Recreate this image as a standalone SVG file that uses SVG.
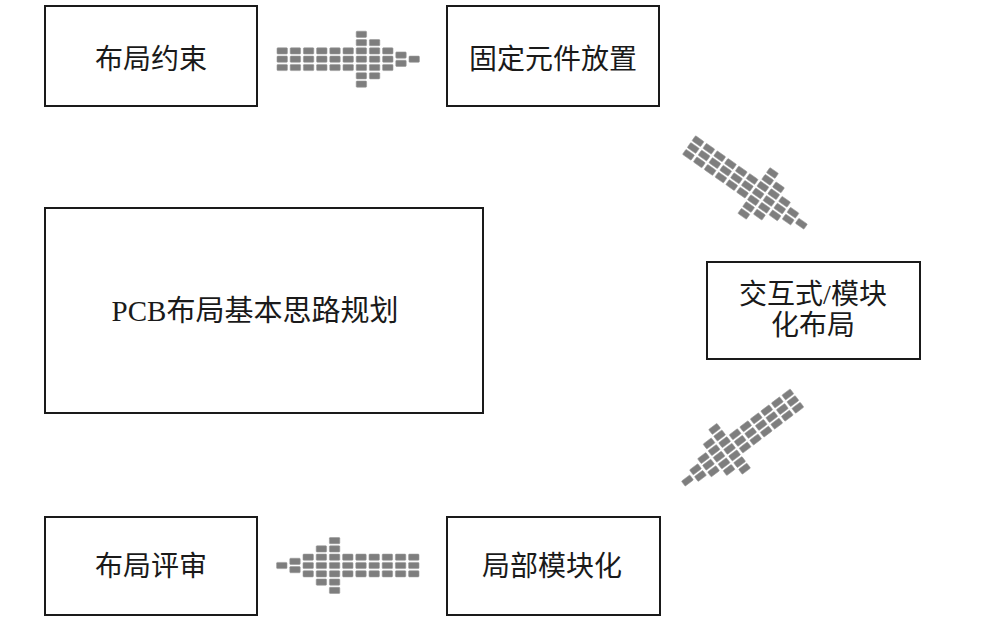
<svg xmlns="http://www.w3.org/2000/svg" xmlns:xlink="http://www.w3.org/1999/xlink" width="1000" height="625" viewBox="0 0 1000 625">
<style>
.box{fill:#fff;stroke:#1a1a1a;stroke-width:2}
.lbl{font-family:"Liberation Serif","Noto Sans CJK SC",serif;font-size:28px;fill:#1a1a1a;text-anchor:middle}
.cell{fill:#7e7e7e;stroke:#999;stroke-width:0.6}
</style>
<defs>
<g id="blockArrow">
<rect class="cell" x="0" y="-11.4" width="10.4" height="6.2" rx="0.8"/><rect class="cell" x="0" y="-3.1" width="10.4" height="6.2" rx="0.8"/><rect class="cell" x="0" y="5.2" width="10.4" height="6.2" rx="0.8"/>
<rect class="cell" x="13.2" y="-11.4" width="10.4" height="6.2" rx="0.8"/><rect class="cell" x="13.2" y="-3.1" width="10.4" height="6.2" rx="0.8"/><rect class="cell" x="13.2" y="5.2" width="10.4" height="6.2" rx="0.8"/>
<rect class="cell" x="26.4" y="-11.4" width="10.4" height="6.2" rx="0.8"/><rect class="cell" x="26.4" y="-3.1" width="10.4" height="6.2" rx="0.8"/><rect class="cell" x="26.4" y="5.2" width="10.4" height="6.2" rx="0.8"/>
<rect class="cell" x="39.6" y="-11.4" width="10.4" height="6.2" rx="0.8"/><rect class="cell" x="39.6" y="-3.1" width="10.4" height="6.2" rx="0.8"/><rect class="cell" x="39.6" y="5.2" width="10.4" height="6.2" rx="0.8"/>
<rect class="cell" x="52.8" y="-11.4" width="10.4" height="6.2" rx="0.8"/><rect class="cell" x="52.8" y="-3.1" width="10.4" height="6.2" rx="0.8"/><rect class="cell" x="52.8" y="5.2" width="10.4" height="6.2" rx="0.8"/>
<rect class="cell" x="66" y="-11.4" width="10.4" height="6.2" rx="0.8"/><rect class="cell" x="66" y="-3.1" width="10.4" height="6.2" rx="0.8"/><rect class="cell" x="66" y="5.2" width="10.4" height="6.2" rx="0.8"/>
<rect class="cell" x="79.2" y="-28" width="10.4" height="6.2" rx="0.8"/><rect class="cell" x="79.2" y="-19.7" width="10.4" height="6.2" rx="0.8"/><rect class="cell" x="79.2" y="-11.4" width="10.4" height="6.2" rx="0.8"/><rect class="cell" x="79.2" y="-3.1" width="10.4" height="6.2" rx="0.8"/><rect class="cell" x="79.2" y="5.2" width="10.4" height="6.2" rx="0.8"/><rect class="cell" x="79.2" y="13.5" width="10.4" height="6.2" rx="0.8"/><rect class="cell" x="79.2" y="21.8" width="10.4" height="6.2" rx="0.8"/>
<rect class="cell" x="92.4" y="-19.7" width="10.4" height="6.2" rx="0.8"/><rect class="cell" x="92.4" y="-11.4" width="10.4" height="6.2" rx="0.8"/><rect class="cell" x="92.4" y="-3.1" width="10.4" height="6.2" rx="0.8"/><rect class="cell" x="92.4" y="5.2" width="10.4" height="6.2" rx="0.8"/><rect class="cell" x="92.4" y="13.5" width="10.4" height="6.2" rx="0.8"/>
<rect class="cell" x="105.6" y="-11.4" width="10.4" height="6.2" rx="0.8"/><rect class="cell" x="105.6" y="-3.1" width="10.4" height="6.2" rx="0.8"/><rect class="cell" x="105.6" y="5.2" width="10.4" height="6.2" rx="0.8"/>
<rect class="cell" x="118.8" y="-7.25" width="10.4" height="6.2" rx="0.8"/><rect class="cell" x="118.8" y="1.05" width="10.4" height="6.2" rx="0.8"/>
<rect class="cell" x="132" y="-3.1" width="10.4" height="6.2" rx="0.8"/>
</g>
</defs>
<g id="connectors">
<use xlink:href="#blockArrow" href="#blockArrow" transform="translate(277,59.2)"/>
<use xlink:href="#blockArrow" href="#blockArrow" transform="translate(689,145) rotate(35)"/>
<use xlink:href="#blockArrow" href="#blockArrow" transform="translate(797,398) rotate(143)"/>
<use xlink:href="#blockArrow" href="#blockArrow" transform="translate(419,565.5) scale(-1,1)"/>
</g>
<g id="node-constraints">
<rect class="box" x="45" y="6" width="212" height="100"/>
<text class="lbl" x="151" y="69">布局约束</text>
</g>
<g id="node-fixed">
<rect class="box" x="447" y="6" width="212" height="100"/>
<text class="lbl" x="553" y="69">固定元件放置</text>
</g>
<g id="node-interactive">
<rect class="box" x="707" y="262" width="213" height="97"/>
<text class="lbl" x="813" y="304">交互式/模块</text>
<text class="lbl" x="813" y="335">化布局</text>
</g>
<g id="node-plan">
<rect class="box" x="45" y="208" width="438" height="205"/>
<text class="lbl" x="255" y="321" style="font-size:29px">PCB布局基本思路规划</text>
</g>
<g id="node-review">
<rect class="box" x="45" y="517" width="212" height="98"/>
<text class="lbl" x="151" y="576">布局评审</text>
</g>
<g id="node-module">
<rect class="box" x="447" y="517" width="213" height="98"/>
<text class="lbl" x="552" y="576">局部模块化</text>
</g>
</svg>
